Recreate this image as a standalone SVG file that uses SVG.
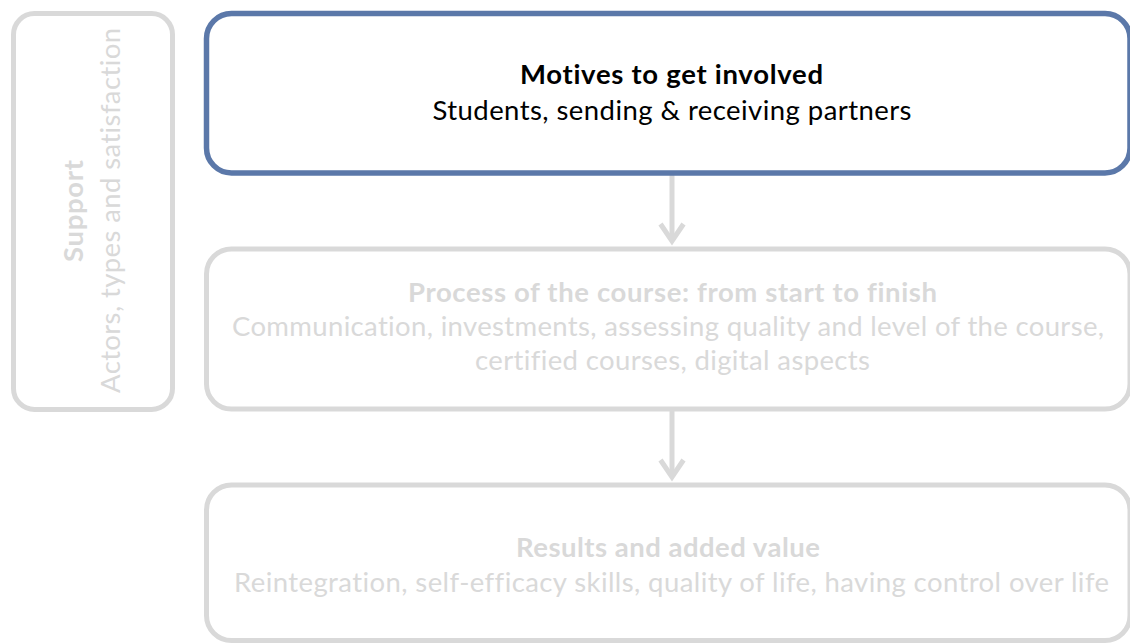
<svg xmlns="http://www.w3.org/2000/svg" width="1130" height="644" viewBox="0 0 1130 644">
  <style>
    .box { fill: #ffffff; stroke: #d9d9d9; stroke-width: 5; }
    .box.active { stroke: #5b78a9; stroke-width: 5.5; }
    text { font-family: Lato, "Open Sans", "Liberation Sans", sans-serif; font-size: 27.5px; fill: #d9d9d9; font-variant-ligatures: none; }
    .title { font-weight: bold; }
    .dark { fill: #000000; }
    .conn { stroke: #d9d9d9; stroke-width: 5; fill: none; }
  </style>
  <defs>
    <marker id="chev" markerUnits="userSpaceOnUse" markerWidth="44" markerHeight="44" viewBox="-22 -22 44 44" refX="0" refY="0" orient="auto">
      <path d="M-17,-11.5 L0,0 L-17,11.5" fill="none" stroke="#d9d9d9" stroke-width="5"/>
    </marker>
  </defs>
  <rect width="1130" height="644" fill="#ffffff"/>

  <g id="connectors">
    <line class="conn" x1="672" y1="174" x2="672" y2="241" marker-end="url(#chev)"/>
    <line class="conn" x1="672" y1="411" x2="672" y2="477" marker-end="url(#chev)"/>
  </g>

  <g id="support">
    <rect class="box" x="13.5" y="13.5" width="159" height="396" rx="21"/>
    <text class="title" transform="translate(83,211) rotate(-90)" text-anchor="middle" textLength="102">Support</text>
    <text transform="translate(120,210.5) rotate(-90)" text-anchor="middle" textLength="365">Actors, types and satisfaction</text>
  </g>

  <g id="motives">
    <rect class="box active" x="206.5" y="13.5" width="923.5" height="159.5" rx="25"/>
    <text class="title dark" x="671.5" y="84" text-anchor="middle" textLength="303">Motives to get involved</text>
    <text class="dark" x="672" y="120" text-anchor="middle" textLength="479">Students, sending &amp; receiving partners</text>
  </g>

  <g id="process">
    <rect class="box" x="206.5" y="249" width="923.5" height="160" rx="25"/>
    <text class="title" x="672.5" y="302" text-anchor="middle" textLength="529">Process of the course: from start to finish</text>
    <text x="668" y="336" text-anchor="middle" textLength="872">Communication, investments, assessing quality and level of the course,</text>
    <text x="672.5" y="370" text-anchor="middle" textLength="395">certified courses, digital aspects</text>
  </g>

  <g id="results">
    <rect class="box" x="206.5" y="485" width="923.5" height="155.5" rx="25"/>
    <text class="title" x="668" y="557" text-anchor="middle" textLength="304">Results and added value</text>
    <text x="671.5" y="592" text-anchor="middle" textLength="875">Reintegration, self-efficacy skills, quality of life, having control over life</text>
  </g>
</svg>
